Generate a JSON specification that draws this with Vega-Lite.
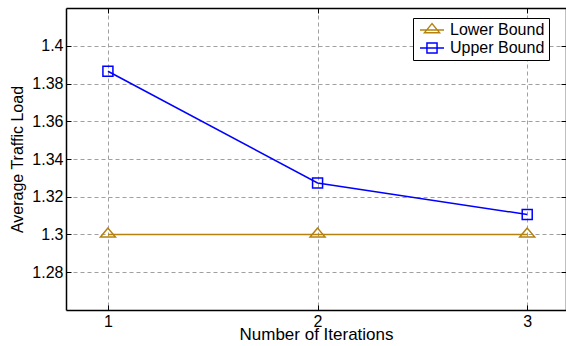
{
  "$schema": "https://vega.github.io/schema/vega-lite/v6.json",
  "width": 500,
  "height": 302,
  "autosize": "none",
  "padding": {"left": 66, "top": 8, "right": 0, "bottom": 36},
  "background": "white",
  "config": {
    "view": {"stroke": null},
    "font": "Liberation Sans"
  },
  "data": {
    "values": [
      {"iter": 1, "series": "Lower Bound", "load": 1.3},
      {"iter": 2, "series": "Lower Bound", "load": 1.3},
      {"iter": 3, "series": "Lower Bound", "load": 1.3},
      {"iter": 1, "series": "Upper Bound", "load": 1.3865},
      {"iter": 2, "series": "Upper Bound", "load": 1.3273},
      {"iter": 3, "series": "Upper Bound", "load": 1.3106}
    ]
  },
  "layer": [
    {
      "transform": [{"filter": "datum.series == 'Lower Bound'"}],
      "mark": {"type": "line", "strokeWidth": 1.5, "color": "#B5820F"},
      "encoding": {
        "x": {
          "field": "iter", "type": "quantitative",
          "scale": {"domain": [0.8, 3.185], "nice": false, "zero": false},
          "axis": {
            "orient": "bottom", "values": [1, 2, 3], "format": "d",
            "grid": true, "gridDash": [4, 3], "gridColor": "#a0a0a0", "gridWidth": 1,
            "tickSize": -5, "tickColor": "black", "tickWidth": 1,
            "domainColor": "black", "domainWidth": 1.5,
            "labelFontSize": 16, "labelPadding": 8, "labelColor": "black",
            "title": "Number of Iterations", "titleFontSize": 17, "titleFontWeight": "normal",
            "titleColor": "black", "titlePadding": -3
          }
        },
        "y": {
          "field": "load", "type": "quantitative",
          "scale": {"domain": [1.26, 1.42], "nice": false, "zero": false},
          "axis": {
            "orient": "left", "values": [1.28, 1.3, 1.32, 1.34, 1.36, 1.38, 1.4], "format": ".3~g",
            "grid": true, "gridDash": [4, 3], "gridColor": "#a0a0a0", "gridWidth": 1,
            "tickSize": -5, "tickColor": "black", "tickWidth": 1,
            "domainColor": "black", "domainWidth": 1.5,
            "labelFontSize": 16, "labelPadding": 8, "labelColor": "black",
            "title": "Average Traffic Load", "titleFontSize": 16, "titleFontWeight": "normal",
            "titleColor": "black", "titlePadding": 6
          }
        }
      }
    },
    {
      "transform": [{"filter": "datum.series == 'Upper Bound'"}],
      "mark": {"type": "line", "strokeWidth": 1.5, "color": "#0000FF"},
      "encoding": {
        "x": {"field": "iter", "type": "quantitative", "axis": null},
        "y": {"field": "load", "type": "quantitative", "axis": null}
      }
    },
    {
      "transform": [{"filter": "datum.series == 'Lower Bound'"}],
      "mark": {"type": "point", "filled": false, "strokeWidth": 1.5, "size": 100, "opacity": 1,
               "shape": "M0,-1.28L-1.5,0.52L1.5,0.52Z", "color": "#B5820F"},
      "encoding": {
        "x": {
          "field": "iter", "type": "quantitative",
          "axis": {
            "orient": "top", "values": [1, 2, 3], "labels": false, "grid": false,
            "tickSize": -5, "tickColor": "black", "tickWidth": 1,
            "domainColor": "black", "domainWidth": 1.5, "title": null
          }
        },
        "y": {
          "field": "load", "type": "quantitative",
          "axis": {
            "orient": "right", "values": [1.28, 1.3, 1.32, 1.34, 1.36, 1.38, 1.4], "labels": false, "grid": false,
            "tickSize": -5, "tickColor": "black", "tickWidth": 1,
            "domainColor": "black", "domainWidth": 1.5, "title": null
          }
        }
      }
    },
    {
      "transform": [{"filter": "datum.series == 'Upper Bound'"}],
      "mark": {"type": "point", "filled": false, "strokeWidth": 1.5, "size": 100, "opacity": 1,
               "shape": "square", "color": "#0000FF"},
      "encoding": {
        "x": {"field": "iter", "type": "quantitative", "axis": null},
        "y": {"field": "load", "type": "quantitative", "axis": null}
      }
    },
    {
      "mark": {"type": "point", "filled": false, "strokeWidth": 1.5, "size": 576, "opacity": 0},
      "encoding": {
        "x": {"field": "iter", "type": "quantitative", "axis": null},
        "y": {"field": "load", "type": "quantitative", "axis": null},
        "color": {"field": "series", "type": "nominal",
          "scale": {"domain": ["Lower Bound", "Upper Bound"], "range": ["#B5820F", "#0000FF"]},
          "legend": {
            "orient": "none", "legendX": 347, "legendY": 10, "title": null,
            "fillColor": "white", "strokeColor": "black",
            "padding": 4, "symbolOffset": 2, "labelOffset": 5,
            "clipHeight": 16, "rowPadding": 2,
            "labelFontSize": 16, "labelColor": "black",
            "symbolSize": 576, "symbolStrokeWidth": 1.5, "symbolOpacity": 1
        }},
        "shape": {
          "field": "series", "type": "nominal",
          "scale": {"domain": ["Lower Bound", "Upper Bound"],
                    "range": ["M-1,0H1M0,-0.53L-0.625,0.22L0.625,0.22Z", "M-1,0H1M-0.42,-0.42H0.42V0.42H-0.42Z"]},
          "legend": {
            "orient": "none", "legendX": 347, "legendY": 10, "title": null,
            "fillColor": "white", "strokeColor": "black",
            "padding": 4, "symbolOffset": 2, "labelOffset": 5,
            "clipHeight": 16, "rowPadding": 2,
            "labelFontSize": 16, "labelColor": "black",
            "symbolSize": 576, "symbolStrokeWidth": 1.5, "symbolOpacity": 1
          }
        }
      }
    }
  ],
  "resolve": {"axis": {"x": "independent", "y": "independent"}}
}
